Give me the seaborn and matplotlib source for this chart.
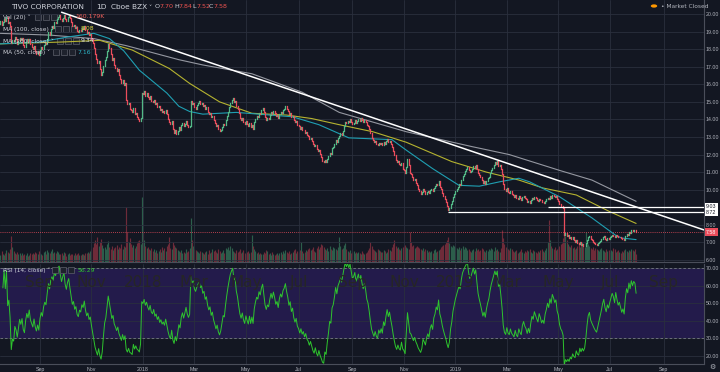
"""TIVO daily chart, dark trading-terminal look (price + volume + RSI)."""

import matplotlib
matplotlib.use("Agg")
import matplotlib.pyplot as plt
import numpy as np
import pandas as pd
import seaborn as sns
from matplotlib.patches import Rectangle, Circle

# --- data -------------------------------------------------------------------
first_open = 19.40
close = [
    19.45, 19.62, 19.38, 19.55, 19.71, 19.60, 19.82, 19.48, 19.55, 19.30,
    18.35, 18.52, 18.44, 18.70, 18.58, 18.31, 18.47, 18.66, 18.50, 18.62,
    18.25, 18.12, 18.38, 18.55, 18.41, 18.60, 18.28, 18.15, 18.02, 18.20,
    17.92, 17.75, 17.88, 17.68, 17.95, 18.10, 17.98, 18.22, 18.35, 18.28,
    18.60, 18.95, 18.82, 19.15, 19.30, 19.22, 19.55, 19.48, 19.70, 19.85,
    19.92, 19.74, 19.60, 19.78, 19.95, 19.70, 19.58, 19.82, 19.96, 19.75,
    19.55, 19.32, 19.40, 19.18, 19.25, 19.02, 18.95, 19.10, 19.05, 19.22,
    19.15, 19.30, 19.08, 18.92, 18.98, 18.80, 18.85, 18.60, 18.35, 18.05,
    17.70, 17.45, 17.20, 17.32, 16.85, 16.55, 16.70, 17.05, 17.40, 17.55,
    17.90, 18.30, 18.05, 17.75, 17.40, 17.50, 17.10, 16.95, 16.75, 16.85,
    16.50, 16.32, 16.10, 16.25, 15.95, 16.05, 15.10, 14.85, 14.95, 14.60,
    14.52, 14.40, 14.65, 14.30, 14.38, 14.15, 14.05, 13.92, 14.10, 15.50,
    15.42, 15.60, 15.35, 15.48, 15.28, 15.15, 15.32, 15.05, 14.98, 15.12,
    14.85, 14.92, 14.70, 14.78, 14.55, 14.62, 14.45, 14.50, 14.38, 14.52,
    14.30, 14.05, 13.85, 13.72, 13.90, 13.45, 13.25, 13.40, 13.18, 13.35,
    13.55, 13.42, 13.68, 13.80, 13.62, 13.75, 13.90, 13.70, 13.58, 13.65,
    15.05, 14.85, 14.95, 14.70, 14.62, 14.80, 14.92, 15.05, 14.88, 14.95,
    14.75, 14.82, 14.60, 14.68, 14.45, 14.30, 14.38, 14.12, 14.20, 13.95,
    13.80, 13.62, 13.70, 13.45, 13.32, 13.40, 13.55, 13.72, 13.68, 13.95,
    14.20, 14.45, 14.70, 14.95, 15.10, 15.22, 14.98, 15.05, 14.75, 14.60,
    14.35, 14.10, 13.95, 14.08, 13.85, 13.72, 13.90, 13.75, 13.62, 13.80,
    13.55, 13.70, 13.48, 13.85, 14.05, 14.20, 14.15, 14.38, 14.30, 14.52,
    14.65, 14.40, 14.12, 13.98, 14.10, 14.05, 14.25, 14.42, 14.30, 14.48,
    14.35, 14.18, 14.25, 14.10, 14.32, 14.45, 14.38, 14.55, 14.62, 14.75,
    14.60, 14.48, 14.30, 14.38, 14.15, 14.22, 13.98, 13.85, 13.92, 13.70,
    13.62, 13.48, 13.55, 13.38, 13.42, 13.25, 13.30, 13.12, 13.05, 12.90,
    12.95, 12.78, 12.60, 12.48, 12.55, 12.32, 12.18, 12.25, 12.02, 11.85,
    11.62, 11.55, 11.70, 11.58, 11.75, 11.90, 12.10, 12.05, 12.35, 12.42,
    12.60, 12.85, 12.72, 12.95, 13.05, 13.20, 13.12, 13.35, 13.60, 13.85,
    13.78, 13.92, 13.85, 14.00, 13.88, 13.75, 13.82, 13.95, 13.80, 13.90,
    14.02, 13.90, 14.08, 13.95, 13.85, 13.98, 13.88, 13.70, 13.62, 13.45,
    13.20, 12.95, 12.82, 12.70, 12.78, 12.62, 12.55, 12.68, 12.58, 12.65,
    12.52, 12.70, 12.60, 12.75, 12.88, 12.72, 12.80, 12.62, 12.45, 12.20,
    11.95, 11.70, 11.55, 11.62, 11.45, 11.38, 11.50, 11.20, 11.12, 10.95,
    11.30, 11.75, 11.40, 10.95, 10.88, 10.70, 10.55, 10.62, 10.40, 10.25,
    10.05, 9.92, 9.78, 9.85, 10.02, 9.90, 9.75, 9.88, 9.95, 9.82,
    9.98, 10.05, 9.90, 10.12, 10.20, 10.35, 10.28, 10.50, 10.15, 10.02,
    9.80, 9.62, 9.45, 9.30, 9.05, 8.85, 8.95, 9.20, 9.35, 9.60,
    9.75, 9.92, 10.05, 10.18, 10.30, 10.25, 10.55, 10.80, 10.92, 11.05,
    11.15, 11.28, 11.10, 10.98, 11.05, 11.20, 11.35, 11.25, 11.40, 11.18,
    10.95, 10.82, 10.70, 10.55, 10.40, 10.48, 10.35, 10.52, 10.65, 10.75,
    10.95, 11.12, 11.25, 11.40, 11.55, 11.48, 11.62, 11.35, 11.42, 11.20,
    10.90, 10.35, 10.05, 9.95, 10.10, 9.88, 9.80, 9.92, 9.75, 9.68,
    9.60, 9.72, 9.55, 9.48, 9.62, 9.50, 9.42, 9.58, 9.65, 9.52,
    9.45, 9.30, 9.38, 9.25, 9.40, 9.52, 9.45, 9.58, 9.50, 9.42,
    9.35, 9.48, 9.40, 9.28, 9.32, 9.25, 9.38, 9.45, 9.55, 9.48,
    9.62, 9.55, 9.70, 9.65, 9.58, 9.62, 9.45, 9.38, 9.20, 9.10,
    9.05, 8.95, 7.45, 7.55, 7.38, 7.42, 7.25, 7.32, 7.20, 7.28,
    7.12, 7.05, 7.15, 6.98, 6.92, 7.02, 6.85, 6.90, 6.78, 6.82,
    6.95, 7.15, 7.32, 7.38, 7.20, 7.12, 7.05, 6.98, 6.92, 6.88,
    6.95, 7.02, 7.10, 7.18, 7.28, 7.35, 7.22, 7.15, 7.25, 7.20,
    7.28, 7.35, 7.42, 7.38, 7.30, 7.45, 7.36, 7.28, 7.32, 7.25,
    7.18, 7.22, 7.15, 7.35, 7.50, 7.45, 7.62, 7.55, 7.70, 7.64,
    7.72, 7.70, 7.58,
]

# volume in thousands of shares
volume_k = [
    180, 150, 220, 164, 136, 190, 240, 210, 176, 260,
    520, 300, 220, 180, 170, 200, 156, 184, 140, 172,
    150, 164, 136, 180, 128, 142, 176, 152, 190, 164,
    200, 176, 152, 230, 180, 164, 140, 192, 216, 170,
    240, 196, 172, 220, 260, 180, 210, 174, 230, 198,
    164, 152, 180, 140, 210, 176, 128, 156, 184, 140,
    170, 152, 136, 180, 144, 162, 190, 140, 132, 156,
    164, 148, 180, 176, 200, 190, 220, 260, 300, 380,
    440, 360, 500, 320, 400, 460, 340, 280, 300, 260,
    360, 420, 300, 260, 320, 240, 280, 300, 340, 260,
    300, 280, 360, 260, 320, 300, 1100, 600, 400, 480,
    360, 300, 340, 280, 320, 380, 420, 440, 360, 1300,
    600, 440, 320, 280, 300, 260, 240, 280, 220, 260,
    200, 240, 180, 220, 260, 200, 300, 240, 280, 220,
    320, 360, 500, 280, 260, 400, 340, 300, 280, 240,
    220, 200, 240, 180, 210, 190, 260, 200, 230, 280,
    880, 440, 320, 260, 240, 220, 200, 180, 230, 200,
    180, 160, 200, 220, 170, 240, 190, 200, 260, 220,
    240, 200, 180, 260, 220, 190, 200, 250, 180, 280,
    260, 300, 240, 320, 280, 220, 200, 180, 240, 200,
    220, 260, 180, 200, 250, 190, 160, 210, 230, 180,
    200, 540, 320, 260, 220, 180, 200, 160, 190, 170,
    160, 200, 180, 240, 220, 170, 180, 150, 200, 160,
    140, 170, 180, 150, 190, 200, 160, 220, 180, 240,
    200, 180, 220, 160, 190, 200, 240, 260, 180, 220,
    200, 240, 400, 220, 180, 200, 240, 220, 260, 280,
    240, 260, 300, 220, 200, 280, 320, 260, 300, 360,
    340, 300, 260, 240, 280, 220, 320, 260, 240, 300,
    280, 260, 240, 300, 500, 320, 260, 280, 340, 380,
    260, 220, 200, 240, 180, 200, 220, 190, 200, 180,
    200, 180, 170, 220, 190, 160, 180, 200, 240, 280,
    400, 320, 260, 240, 220, 200, 260, 240, 220, 200,
    200, 240, 220, 180, 200, 260, 240, 220, 300, 360,
    440, 320, 280, 300, 260, 240, 280, 300, 320, 340,
    300, 280, 260, 600, 400, 320, 340, 280, 300, 320,
    300, 280, 260, 240, 280, 220, 260, 240, 200, 220,
    200, 220, 180, 240, 260, 200, 220, 240, 260, 300,
    320, 340, 360, 400, 440, 500, 380, 320, 300, 340,
    320, 300, 280, 260, 300, 240, 280, 320, 260, 300,
    280, 240, 260, 220, 200, 240, 260, 220, 280, 240,
    260, 220, 240, 280, 260, 220, 200, 240, 220, 260,
    240, 280, 260, 220, 300, 240, 260, 220, 200, 280,
    640, 480, 360, 300, 280, 260, 240, 280, 260, 220,
    200, 220, 240, 180, 200, 220, 260, 200, 180, 220,
    200, 240, 220, 260, 200, 180, 240, 220, 200, 180,
    220, 200, 240, 260, 220, 200, 240, 280, 400, 840,
    440, 320, 280, 260, 300, 240, 260, 280, 320, 360,
    380, 480, 700, 520, 440, 360, 320, 300, 340, 280,
    300, 260, 280, 320, 360, 300, 340, 400, 320, 300,
    600, 400, 360, 320, 280, 260, 300, 240, 280, 260,
    240, 220, 260, 280, 240, 220, 200, 260, 220, 240,
    200, 240, 220, 280, 260, 200, 220, 240, 200, 180,
    220, 200, 240, 260, 220, 200, 240, 220, 260, 240,
    220, 260, 160.179,
]

# moving averages, read at points along each line (bar index, price)
ma50_idx = [0, 33, 58, 79, 92, 104, 117, 140, 150, 159, 170, 198, 226, 245,
            267, 292, 328, 340, 362, 384, 401, 418, 434, 443, 468, 495, 515, 520, 532]
ma50_val = [18.3, 18.4, 18.7, 18.9, 18.6, 17.9, 16.8, 15.5, 14.75, 14.45, 14.3,
            14.4, 14.25, 14.15, 13.7, 12.95, 12.85, 12.25, 11.2, 10.25, 10.2,
            10.45, 10.65, 10.45, 9.6, 8.4, 7.4, 7.25, 7.16]
ma100_idx = [0, 50, 84, 111, 142, 159, 184, 211, 240, 261, 284, 312, 340, 378,
             407, 434, 454, 482, 510, 532]
ma100_val = [18.3, 18.4, 18.5, 17.95, 16.9, 16.05, 15.0, 14.35, 14.25, 14.05,
             13.7, 13.3, 12.7, 11.6, 11.0, 10.55, 10.1, 9.7, 8.75, 8.08]
ma200_idx = [0, 42, 79, 106, 150, 170, 211, 253, 284, 340, 395, 426, 468, 495, 532]
ma200_val = [18.9, 18.8, 18.6, 18.2, 17.4, 17.1, 16.6, 15.55, 14.4, 13.3, 12.45,
             12.0, 11.1, 10.55, 9.34]

# drawings on the chart
trend_idx = [52, 588.7]
trend_val = [20.1, 7.71]
level_val = [9.03, 8.72]
level_start = [458, 375]
last_price = 7.58

month_starts = ["2017-09", "2017-11", "2018-01", "2018-03", "2018-05", "2018-07",
                "2018-09", "2018-11", "2019-01", "2019-03", "2019-05", "2019-07",
                "2019-09"]
month_labels = ["Sep", "Nov", "2018", "Mar", "May", "Jul", "Sep", "Nov", "2019",
                "Mar", "May", "Jul", "Sep"]
price_ticks = list(range(6, 21))
rsi_ticks = [20, 30, 40, 50, 60, 70]

# --- colours ----------------------------------------------------------------
BG = "#131722"
GRID = "#2a2f3d"
TXT = "#b2b5be"
UP = "#53b987"
DOWN = "#eb4d5c"
VOL_UP = "#2c5e4b"
VOL_DOWN = "#6e2b39"
AXIS_FONT = "Liberation Sans"

sns.set_theme(style="dark", rc={"axes.facecolor": BG, "figure.facecolor": BG})
plt.rcParams["font.family"] = ["DejaVu Sans"]

W, H = 720, 372


def fx(px):
    return px / W


def fy(py):
    return 1 - py / H


# --- frame ------------------------------------------------------------------
n = len(close)
idx = np.arange(n)
opens = np.array([first_open] + close[:-1])
closes = np.array(close)
rising = closes >= opens

cal = pd.bdate_range("2017-07-17", "2019-12-31")
tick_pos = [cal.searchsorted(pd.Timestamp(m + "-01")) for m in month_starts]
xlim = (0.585, 0.585 + 704 / 1.197)

fig = plt.figure(figsize=(7.2, 3.72), dpi=100, facecolor=BG)
rect_price = [0, fy(262), fx(704), 262 / H]
ax_vol = fig.add_axes(rect_price, zorder=1)
ax = fig.add_axes(rect_price, zorder=2, sharex=ax_vol)
ax_rsi = fig.add_axes([0, fy(364), fx(704), 100 / H], sharex=ax_vol)
ax.set_facecolor("none")

# volume
ax_vol.vlines(idx, 0, volume_k, colors=np.where(rising, VOL_UP, VOL_DOWN),
              linewidth=0.85)
ax_vol.set_ylim(0, 262 * 20)
ax_vol.set_yticks([])
for s in ax_vol.spines.values():
    s.set_visible(False)

# candles
lo = np.minimum(opens, closes)
hi = np.maximum(opens, closes)
ax.vlines(idx, lo, hi, colors=np.where(rising, UP, DOWN), linewidth=0.9,
          capstyle="projecting", zorder=3)

# moving averages
sns.lineplot(x=ma200_idx, y=ma200_val, ax=ax, color="#9598a1", linewidth=0.8, zorder=2)
sns.lineplot(x=ma100_idx, y=ma100_val, ax=ax, color="#b5b330", linewidth=0.8, zorder=2)
sns.lineplot(x=ma50_idx, y=ma50_val, ax=ax, color="#1f9fb2", linewidth=0.8, zorder=2)

# drawings
ax.plot(trend_idx, trend_val, color="white", linewidth=1.1, zorder=4)
ax.hlines(level_val, level_start, xlim[1], colors="white", linewidth=0.9, zorder=4)
ax.axhline(last_price, color=DOWN, linewidth=0.6, linestyle=(0, (1, 1.5)), zorder=1)

ax.set_xlim(*xlim)
ax.set_ylim(20 - 248 / 17.57, 20 + 14 / 17.57)
ax.yaxis.tick_right()
ax.set_yticks(price_ticks)
ax.set_yticklabels(["" if t == 9 else f"{t:.2f}" for t in price_ticks],
                   fontfamily=AXIS_FONT)
ax.set_xticks(tick_pos)
ax.tick_params(axis="x", labelbottom=False, length=0)
ax.tick_params(axis="y", length=0, labelsize=3.8, colors=TXT, pad=1.3)
ax.grid(True, color=GRID, linewidth=0.6)
ax.set_axisbelow(True)
for name, s in ax.spines.items():
    s.set_visible(name in ("right", "bottom"))
    s.set_color("#4a4e5a")
    s.set_linewidth(0.8)
ax.set_xlabel("")
ax.set_ylabel("")

# --- RSI --------------------------------------------------------------------
diff = pd.Series(closes).diff()
gain = diff.clip(lower=0).ewm(alpha=1 / 14, adjust=True).mean()
loss = (-diff.clip(upper=0)).ewm(alpha=1 / 14, adjust=True).mean()
rsi = 100 - 100 / (1 + gain / loss)
rsi.iloc[:3] = np.nan

ax_rsi.axhspan(30, 70, color="#231b4b", zorder=0.2, linewidth=0)
for lvl in (30, 70):
    ax_rsi.axhline(lvl, color="#787b86", linewidth=0.6, linestyle=(0, (3, 2.5)), zorder=1)
sns.lineplot(x=idx, y=rsi.values, ax=ax_rsi, color="#2ec52e", linewidth=0.7, zorder=3)
ax_rsi.set_ylim(20 - 8 / 1.76, 70 + 4 / 1.76)
ax_rsi.set_xlim(*xlim)
ax_rsi.yaxis.tick_right()
ax_rsi.set_yticks(rsi_ticks)
ax_rsi.set_yticklabels([f"{t:.2f}" for t in rsi_ticks], fontfamily=AXIS_FONT)
ax_rsi.set_xticks(tick_pos)
ax_rsi.set_xticklabels(month_labels, fontfamily=AXIS_FONT)
ax_rsi.tick_params(axis="both", length=0, labelsize=3.8, colors=TXT)
ax_rsi.tick_params(axis="y", pad=1.3)
ax_rsi.tick_params(axis="x", pad=2)
ax_rsi.grid(True, color=GRID, linewidth=0.6)
ax_rsi.set_axisbelow(True)
for name, s in ax_rsi.spines.items():
    s.set_visible(name in ("right", "bottom"))
    s.set_color("#4a4e5a")
    s.set_linewidth(0.8)
ax_rsi.set_xlabel("")
ax_rsi.set_ylabel("")

# --- legend texts -----------------------------------------------------------
LBL = "#d1d4dc"
fig.text(fx(11), fy(7), "TIVO CORPORATION", color=LBL, fontsize=5.3, va="center")
fig.text(fx(96), fy(7), "1D", color=LBL, fontsize=5.3, va="center")
fig.text(fx(111), fy(7), "Cboe BZX", color=LBL, fontsize=5.3, va="center")
fig.text(fx(148), fy(7), "˅", color=LBL, fontsize=4.5, va="center")
for x0, letter, val in [(155, "O", "7.70"), (174, "H", "7.84"),
                        (192, "L", "7.52"), (209, "C", "7.58")]:
    fig.text(fx(x0), fy(7), letter, color=LBL, fontsize=4.6, va="center")
    fig.text(fx(x0 + 4.5), fy(7), val, color="#ef5350", fontsize=4.6, va="center")

rows = [
    (17, "Vol (20)", 35, "160.179K", 75, "#f0605a"),
    (29, "MA (100, close)", 55, "8.08", 81, "#d8d640"),
    (41, "MA (200, close)", 57, "9.34", 81, "#e0e3eb"),
    (52, "MA (50, close)", 53, "7.16", 78, "#2cb5c8"),
    (270, "RSI (14, close)", 52, "56.29", 78, "#2ec52e"),
]
for y0, label, bx, val, vx, vcol in rows:
    fig.text(fx(3), fy(y0), label + " ˅", color=LBL, fontsize=4.2, va="center")
    for k in range(3):
        fig.patches.append(Rectangle((fx(bx + 8 * k), fy(y0 + 3)), fx(6), 6 / H,
                                     transform=fig.transFigure, facecolor="#1e222d",
                                     edgecolor="#5d606b", linewidth=0.5))
    fig.text(fx(vx), fy(y0), val, color=vcol, fontsize=4.4, va="center")

# market status and price-axis badges
fig.patches.append(Circle((fx(654), fy(6)), 3.2 / W, transform=fig.transFigure,
                          facecolor="#ff9800", edgecolor="none"))
fig.text(fx(661), fy(6), "• Market Closed", color=TXT, fontsize=4.2, va="center")
for price, fc, tc in [(9.03, "white", "#131722"), (8.72, "white", "#131722"),
                      (last_price, DOWN, "white")]:
    ax.text(1.003, price, f"{price:.2f}", transform=ax.get_yaxis_transform(),
            color=tc, fontsize=3.8, va="center", ha="left", clip_on=False,
            fontfamily=AXIS_FONT,
            bbox=dict(boxstyle="square,pad=0.25", facecolor=fc, edgecolor="none"))
fig.text(fx(712), fy(367), "⚙", color=TXT, fontsize=5, va="center", ha="center")

fig.savefig("out.png", dpi=100, facecolor=BG)
